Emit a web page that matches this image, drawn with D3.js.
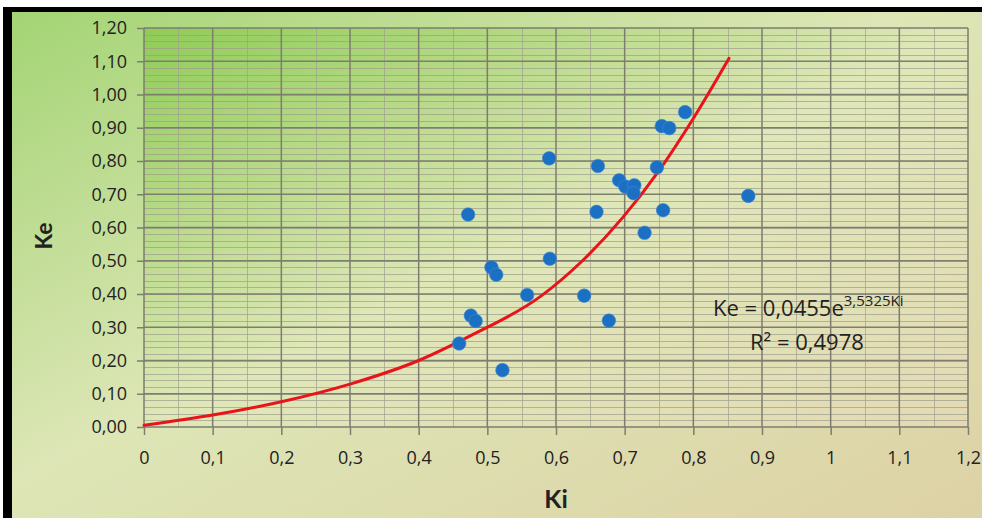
<!DOCTYPE html>
<html>
<head>
<meta charset="utf-8">
<script src="https://cdn.jsdelivr.net/npm/d3@7"></script>
<style>
  body { margin: 0; background: #fff; }
  svg { display: block; }
  text { font-family: Lato, "Open Sans", sans-serif; fill: #222; }
</style>
</head>
<body>
<svg id="chart" width="982" height="518"></svg>
<script>
// measured points (Ki, Ke)
var ki = [0.590, 0.661, 0.747, 0.692, 0.701, 0.714, 0.713, 0.472, 0.659, 0.756, 0.729, 0.880,
          0.591, 0.506, 0.513, 0.558, 0.641, 0.476, 0.483, 0.677, 0.459, 0.522, 0.788, 0.754, 0.765];
var ke = [0.808, 0.785, 0.781, 0.742, 0.723, 0.727, 0.703, 0.639, 0.647, 0.652, 0.584, 0.695,
          0.506, 0.480, 0.458, 0.397, 0.395, 0.335, 0.319, 0.320, 0.251, 0.171, 0.947, 0.905, 0.899];

// trendline
var trendKi = [0, 0.1, 0.2, 0.3, 0.4, 0.475, 0.577, 0.637, 0.698, 0.749, 0.80, 0.852];
var trendKe = [0.005, 0.036, 0.076, 0.129, 0.200, 0.274, 0.392, 0.497, 0.632, 0.768, 0.928, 1.109];

var xTicks = [0, 0.1, 0.2, 0.3, 0.4, 0.5, 0.6, 0.7, 0.8, 0.9, 1, 1.1, 1.2];
var yTicks = [0, 0.1, 0.2, 0.3, 0.4, 0.5, 0.6, 0.7, 0.8, 0.9, 1.0, 1.1, 1.2];

var svg = d3.select("#chart");
var defs = svg.append("defs");

var bg = defs.append("linearGradient").attr("id", "bg")
    .attr("x1", "0").attr("y1", "0").attr("x2", "1").attr("y2", "1");
bg.append("stop").attr("offset", "0").attr("stop-color", "#a3d474");
bg.append("stop").attr("offset", "0.45").attr("stop-color", "#dde6b6");
bg.append("stop").attr("offset", "1").attr("stop-color", "#ddd1a5");

var pg = defs.append("linearGradient").attr("id", "pg")
    .attr("x1", "0").attr("y1", "0").attr("x2", "1").attr("y2", "1");
pg.append("stop").attr("offset", "0").attr("stop-color", "#8fcc56");
pg.append("stop").attr("offset", "0.5").attr("stop-color", "#dfe7b8");
pg.append("stop").attr("offset", "1").attr("stop-color", "#e4dab4");

// frame
svg.append("rect").attr("x", 3).attr("y", 7).attr("width", 985).attr("height", 520).attr("fill", "#000");
svg.append("rect").attr("x", 12).attr("y", 12).attr("width", 980).attr("height", 520).attr("fill", "url(#bg)");

var x = d3.scaleLinear().domain([0, 1.2]).range([144, 968]);
var y = d3.scaleLinear().domain([0, 1.2]).range([427, 28]);

svg.append("rect")
    .attr("x", x(0)).attr("y", y(1.2))
    .attr("width", x(1.2) - x(0)).attr("height", y(0) - y(1.2))
    .attr("fill", "url(#pg)");

// minor grid
var g = svg.append("g");
g.selectAll(".hmin").data(d3.range(1, 60))
  .join("line")
    .attr("x1", x(0)).attr("x2", x(1.2))
    .attr("y1", d => Math.round(y(d * 0.02)) + 0.5).attr("y2", d => Math.round(y(d * 0.02)) + 0.5)
    .attr("stroke", "#9c9c8c").attr("stroke-opacity", 0.7).attr("stroke-width", 1);
g.selectAll(".vmin").data(d3.range(1, 24, 2))
  .join("line")
    .attr("y1", y(0)).attr("y2", y(1.2))
    .attr("x1", d => Math.round(x(d * 0.05)) + 0.5).attr("x2", d => Math.round(x(d * 0.05)) + 0.5)
    .attr("stroke", "#a0a090").attr("stroke-opacity", 0.7).attr("stroke-width", 1);

// major grid
g.selectAll(".hmaj").data(yTicks)
  .join("line")
    .attr("x1", x(0)).attr("x2", x(1.2))
    .attr("y1", d => y(d)).attr("y2", d => y(d))
    .attr("stroke", "#7d7d70").attr("stroke-width", 1.5);
g.selectAll(".vmaj").data(xTicks)
  .join("line")
    .attr("y1", y(0)).attr("y2", y(1.2))
    .attr("x1", d => x(d)).attr("x2", d => x(d))
    .attr("stroke", "#7d7d70").attr("stroke-width", 1.5);

var fmt2 = d3.format(".2f"), comma = s => s.replace(".", ",");

var yAxis = svg.append("g")
    .attr("transform", "translate(" + x(0) + ",0)")
    .call(d3.axisLeft(y).tickValues(yTicks).tickSize(7).tickPadding(10)
      .tickFormat(d => comma(fmt2(d))));
var xAxis = svg.append("g")
    .attr("transform", "translate(0," + y(0) + ")")
    .call(d3.axisBottom(x).tickValues(xTicks).tickSize(8).tickPadding(16)
      .tickFormat(d => comma(String(+d.toFixed(1)))));
[yAxis, xAxis].forEach(function(a) {
  a.select(".domain").remove();
  a.selectAll(".tick line").attr("stroke", "#7d7d70").attr("stroke-width", 1.5);
  a.selectAll(".tick text").attr("fill", "#2a2a2a")
    .style("font-size", "18px").style("font-family", "'Open Sans', sans-serif");
});

// trendline
var line = d3.line().x(d => x(d[0])).y(d => y(d[1])).curve(d3.curveMonotoneX);
svg.append("path")
    .datum(trendKi.map((k, i) => [k, trendKe[i]]))
    .attr("d", line)
    .attr("fill", "none").attr("stroke", "#e8141a").attr("stroke-width", 3)
    .attr("stroke-linecap", "round");

// points
svg.append("g").selectAll("circle")
  .data(ki.map((k, i) => [k, ke[i]]))
  .join("circle")
    .attr("cx", d => x(d[0])).attr("cy", d => y(d[1]))
    .attr("r", 6.8)
    .attr("fill", "#1c70c4").attr("stroke", "#3d8ad6").attr("stroke-opacity", 0.6).attr("stroke-width", 1);

// equation
var eq = svg.append("text").attr("x", 713).attr("y", 316)
    .style("font-size", "22px").style("font-family", "'Open Sans', sans-serif");
eq.append("tspan").text("Ke = 0,0455e");
eq.append("tspan").attr("dy", -10).style("font-size", "15px").text("3,5325Ki");
svg.append("text").attr("x", 750).attr("y", 350)
    .style("font-size", "22px").style("font-family", "'Open Sans', sans-serif")
    .text("R² = 0,4978");

// axis titles
svg.append("text")
    .attr("transform", "translate(52,236) rotate(-90)")
    .attr("text-anchor", "middle")
    .style("font-size", "23px").style("font-weight", "bold").text("Ke");
svg.append("text")
    .attr("x", 556).attr("y", 508)
    .attr("text-anchor", "middle")
    .style("font-size", "25px").style("font-weight", "bold").text("Ki");
</script>
</body>
</html>
